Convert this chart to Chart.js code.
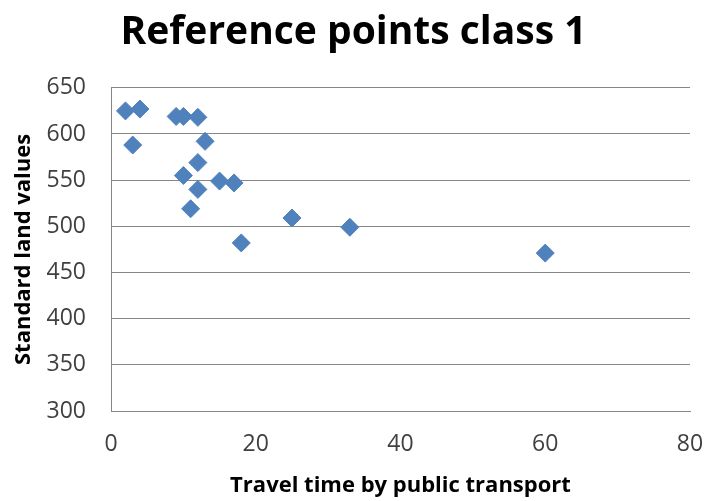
<!DOCTYPE html>
<html>
<head>
<meta charset="utf-8">
<script src="https://cdn.jsdelivr.net/npm/chart.js@4"></script>
<style>
  html, body { margin: 0; padding: 0; background: #fff; }
  #wrap { width: 707px; height: 501px; }
</style>
</head>
<body>
<div id="wrap"><canvas id="chart" width="707" height="501"></canvas></div>
<script>
// travel time (x) / standard land value (y)
const travelTime = [2, 4, 3, 9, 10, 12, 13, 12, 10, 15, 17, 12, 11, 18, 25, 33, 60];
const landValues = [625, 627, 588, 619, 619, 618, 592, 569, 555, 549, 547, 540, 519, 482, 509, 499, 471];
const xTicks = [0, 20, 40, 60, 80];
const yTicks = [300, 350, 400, 450, 500, 550, 600, 650];

const points = travelTime.map((t, i) => ({ x: t, y: landValues[i] }));

const FONT = '"Open Sans", Lato, sans-serif';

new Chart(document.getElementById('chart'), {
  type: 'scatter',
  data: {
    datasets: [{
      label: 'Reference points class 1',
      data: points,
      pointStyle: 'rectRot',
      pointRadius: 9,
      pointHoverRadius: 9,
      backgroundColor: '#4f81bd',
      borderColor: '#4f81bd',
      borderWidth: 1
    }]
  },
  options: {
    responsive: false,
    animation: false,
    layout: { padding: { left: 0, right: 0, top: 0, bottom: 0 } },
    plugins: {
      legend: { display: false },
      tooltip: { enabled: false },
      title: {
        display: true,
        text: 'Reference points class 1',
        color: '#000',
        font: { family: FONT, size: 39, weight: 'bold' },
        padding: { top: 9, bottom: 32 }
      }
    },
    scales: {
      x: {
        type: 'linear',
        min: xTicks[0],
        max: xTicks[xTicks.length - 1],
        afterBuildTicks: s => { s.ticks = xTicks.map(v => ({ value: v })); },
        grid: { display: false, drawTicks: false },
        border: { display: true, color: '#868686', width: 1 },
        ticks: { padding: 20, color: '#404040', font: { family: FONT, size: 23 } },
        title: {
          display: true,
          text: 'Travel time by public transport',
          color: '#000',
          font: { family: FONT, size: 22, weight: 'bold' },
          padding: { top: 0, bottom: 2 }
        },
        afterFit: s => { s.height = 90; s.paddingRight = 17; }
      },
      y: {
        type: 'linear',
        min: yTicks[0],
        max: yTicks[yTicks.length - 1],
        afterBuildTicks: s => { s.ticks = yTicks.map(v => ({ value: v })); },
        grid: { color: '#868686', lineWidth: 1, drawTicks: false },
        border: { display: true, color: '#868686', width: 1 },
        ticks: { padding: 25, color: '#404040', font: { family: FONT, size: 23 } },
        title: {
          display: true,
          text: 'Standard land values',
          color: '#000',
          font: { family: FONT, size: 22, weight: 'bold' },
          padding: { top: 11, bottom: 0 }
        },
        afterFit: s => { s.width = 111; }
      }
    }
  }
});
</script>
</body>
</html>
